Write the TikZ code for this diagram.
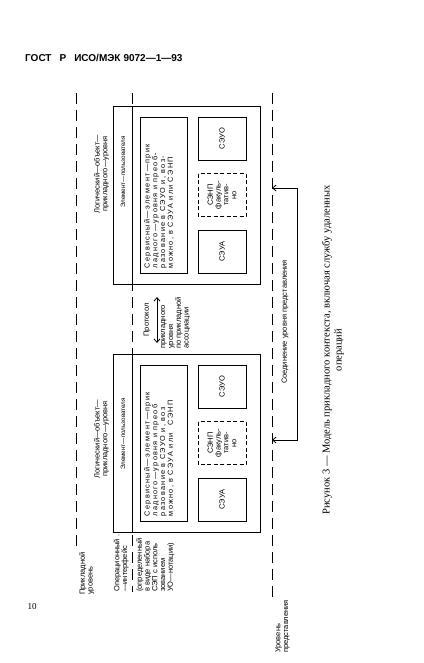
\documentclass[tikz,border=0pt]{standalone}
\usepackage{fontspec}
\setmainfont{Liberation Serif}
\newfontfamily\labfont{Liberation Sans}
\newfontfamily\svcfont[LetterSpace=18]{Liberation Sans}
\usetikzlibrary{arrows.meta}
% #1 name, #2 centre y, #3 y of object label, #4 y of user-element label, #5 service text
\newcommand{\drawelement}[5]{%
  \node[frame, minimum width=178pt, minimum height=147pt] (#1-out) at (186.5,#2) {};
  \node[frame, minimum width=156pt, minimum height=47pt] (#1-svc) at (163.5,#2) {};
  \node[frame, small, minimum width=43pt, minimum height=48pt] (#1-uo) at (222,#2-56.5) {СЭУО};
  \node[frame, small, optbox, minimum width=43pt, minimum height=48pt, align=center] (#1-np) at (222,#2) {СЭНП\\факуль-\\татив-\\но};
  \node[frame, small, minimum width=43pt, minimum height=48pt] (#1-ua) at (222,#2+56.5) {СЭУА};
  \node[svc, anchor=north west] (#1-svct) at ([xshift=4.5pt,yshift=5pt]#1-svc.north west) {#5};
  \node[lblc] (#1-obj) at (101.5,#3) {Логический—объект—\\прикладного—уровня};
  \node[lblc, font=\labfont\fontsize{6.3}{7}\selectfont] (#1-ue) at (123,#4) {Элемент—пользователя};
  \draw[line width=0.8pt] (#1-out.east -| B1) -- (#1-out.west -| B1);
}
\begin{document}
\begin{tikzpicture}[x=1pt,y=-1pt,
  lbl/.style={font=\labfont\fontsize{7.5}{7.8}\selectfont, rotate=90, inner sep=0pt, align=left},
  lblc/.style={lbl, align=center},
  svc/.style={lbl, font=\svcfont\fontsize{7.3}{7.7}\selectfont},
  small/.style={font=\labfont\fontsize{7.5}{7.8}\selectfont},
  frame/.style={draw, line width=0.9pt, rotate=90, inner sep=0pt},
  optbox/.style={dash pattern=on 4pt off 2.5pt},
  level/.style={line width=0.7pt, dash pattern=on 11pt off 6pt},
  conn/.style={line width=0.8pt},
  barb/.style={{Straight Barb[length=3.5pt,width=6pt]}-{Straight Barb[length=3.5pt,width=6pt]}},
]
\useasboundingbox (0,0) rectangle (423,663);

% header and page number
\node[anchor=west, font=\labfont\bfseries\fontsize{10}{12}\selectfont, inner sep=0pt] (hdr) at (25,58) {ГОСТ\hspace{8pt}Р\hspace{8pt}ИСО/МЭК\hspace{3pt}9072—1—93};
\node[font=\fontsize{9}{10}\selectfont, inner sep=0pt] (pg) at (32,607) {10};

% level lines
\coordinate (A1) at (76,93); \coordinate (A2) at (76,547);
\draw[level] (A1) -- (A2);
\node[lbl, anchor=north west] (labA) at (79,595) {Прикладной\\уровень};

\coordinate (B1) at (132,93); \coordinate (B2) at (132,592);
\draw[level] (B1) -- (B2);
\node[lbl, anchor=south west] (labB) at (129,592) {Операционный .\\—интерфейс};
\node[lbl, anchor=north west] (labB2) at (136,592) {(определенный\\в виде набора\\СЭП с исполь\\зованием\\УО—нотации)};

\coordinate (C1) at (272,93); \coordinate (C2) at (272,603);
\draw[level] (C1) -- (C2);
\node[lbl, anchor=north west] (labC) at (275,653) {Уровень\\представления};

% application entities
\drawelement{R}{195}{174}{172}{Сервисный—элемент—прик\\ладного—уровня и преоб-\\разование в СЭУО и, воз-\\можно, в СЭУА или СЭНП}
\drawelement{L}{443}{439}{434}{Сервисный—элемент—прик\\ладного—уровня и преоб\\разование в СЭУО и, воз\\можно, в СЭУА или\hspace{8pt}СЭНП}

% protocol
\coordinate (P1) at (157,297); \coordinate (P2) at (157,343);
\draw[conn, barb] (P1) -- (P2);
\node[lbl] (prot1) at (147,320) {Протокол};
\node[lbl, anchor=north west] (prot2) at (161,349) {прикладного\\уровня\\по прикладной\\ассоциации};

% presentation connection
\coordinate (cu) at (272,188); \coordinate (cl) at (272,440);
\coordinate (cc1) at (297,188); \coordinate (cc2) at (297,440);
\draw[conn, barb] (cu) -- (cc1) -- (cc2) -- (cl);
\node[lbl] (ctext) at (285,322) {Соединение уровня представления};

% caption
\node[rotate=90, font=\fontsize{10.5}{12}\selectfont, align=center, inner sep=0pt] (cap) at (333,350) {Рисунок 3 — Модель прикладного контекста, включая службу удаленных\\операций};
\end{tikzpicture}
\end{document}
